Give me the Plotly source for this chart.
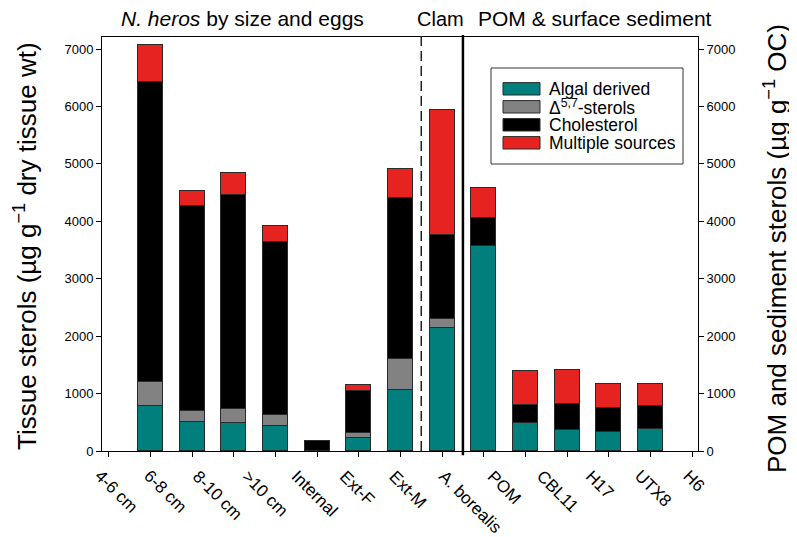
import plotly.graph_objects as go

# ---------------- data ----------------
categories = ["4-6 cm", "6-8 cm", "8-10 cm", ">10 cm", "Internal", "Ext-F", "Ext-M",
              "A. borealis", "POM", "CBL11", "H17", "UTX8", "H6"]
algal = [780, 505, 495, 435, 0, 230, 1055, 2140, 3565, 495, 360, 330, 375]
delta57 = [420, 190, 230, 200, 0, 90, 555, 165, 0, 0, 0, 0, 0]
cholesterol = [5230, 3570, 3740, 3000, 170, 720, 2800, 1465, 495, 300, 455, 420, 410]
multiple = [640, 270, 375, 280, 0, 105, 500, 2165, 520, 595, 590, 410, 380]
y_ticks = [0, 1000, 2000, 3000, 4000, 5000, 6000, 7000]

series_names = ["Algal derived", "Δ<sup>5,7</sup>-sterols", "Cholesterol", "Multiple sources"]
series_vals = [algal, delta57, cholesterol, multiple]
series_colors = ["#007f7d", "#828282", "#000000", "#e62320"]

FONT = "Arial, Liberation Sans, sans-serif"

# page body has an 8px margin: size the figure so the plot lands where it should
OFF = 8
PL, PR, PT, PB = 102, 698, 37, 451          # plot area in window pixels
W, H = 797 - OFF, 537 - OFF
ML, MT = PL - OFF, PT - OFF
MR, MB = W - (PR - OFF), H - (PB - OFF)
PW, PH = PR - PL, PB - PT

# bar slots: one empty slot at each end of the axis
positions = [i + 1 for i in range(len(categories))]
n_slots = len(categories) + 2
x_range = [-0.16, n_slots - 1 + 0.14]


def data_to_paper(xv):
    return (xv - x_range[0]) / (x_range[1] - x_range[0])


def px_x(p):
    return (p - PL) / PW


def px_y(p):
    return (PB - p) / PH


fig = go.Figure()
for name, vals, col in zip(series_names, series_vals, series_colors):
    fig.add_trace(go.Bar(
        x=positions, y=vals, name=name, width=0.6, showlegend=False,
        marker=dict(color=col, line=dict(color="#2a2a2a", width=1)),
    ))

# invisible trace to attach the right-hand axis
fig.add_trace(go.Scatter(x=positions, y=[None] * len(positions), yaxis="y2",
                         showlegend=False, hoverinfo="skip", mode="lines"))

# category labels (spread evenly, rotated)
lab_start = -0.49
lab_step = 1.1775
annotations = []
for i, lab in enumerate(categories):
    annotations.append(dict(
        text=lab, x=data_to_paper(lab_start + i * lab_step), xref="paper", y=0, yref="paper",
        xanchor="left", yanchor="top", yshift=-13, textangle=45, showarrow=False,
        font=dict(family=FONT, size=17, color="#000")))

# group headers
i_clam = categories.index("A. borealis")
hdr_font = dict(family=FONT, size=21, color="#000")
annotations += [
    dict(text="<i>N. heros</i> by size and eggs", x=3.2, xref="x", y=1, yref="paper",
         yanchor="bottom", yshift=5, showarrow=False, font=hdr_font),
    dict(text="Clam", x=positions[i_clam] - 0.05, xref="x", y=1, yref="paper",
         yanchor="bottom", yshift=5, showarrow=False, font=dict(family=FONT, size=20, color="#000")),
    dict(text="POM &amp; surface sediment", x=11.66, xref="x", y=1, yref="paper",
         yanchor="bottom", yshift=5, showarrow=False, font=hdr_font),
]

# axis titles
annotations += [
    dict(text="Tissue sterols (µg g<sup>−1</sup> dry tissue wt)", x=px_x(25), y=px_y(246),
         xref="paper", yref="paper", xanchor="center", yanchor="middle", textangle=-90,
         showarrow=False, font=dict(family=FONT, size=26, color="#000")),
    dict(text="POM and sediment sterols (µg g<sup>−1</sup> OC)", x=px_x(775), y=px_y(249),
         xref="paper", yref="paper", xanchor="center", yanchor="middle", textangle=-90,
         showarrow=False, font=dict(family=FONT, size=26, color="#000")),
]

shapes = [
    dict(type="line", xref="x", yref="paper", x0=positions[i_clam] - 0.5, x1=positions[i_clam] - 0.5,
         y0=0, y1=1.005, line=dict(color="#222", width=1.5, dash="10px,5px")),
    dict(type="line", xref="x", yref="paper", x0=positions[i_clam] + 0.5, x1=positions[i_clam] + 0.5,
         y0=-0.01, y1=1.005, line=dict(color="#000", width=2.5)),
]

# legend box (drawn from the series lists)
shapes.append(dict(type="rect", xref="paper", yref="paper",
                   x0=px_x(491), x1=px_x(683), y0=px_y(164), y1=px_y(68),
                   line=dict(color="#333", width=1), fillcolor="white", layer="above"))
for i, (name, col) in enumerate(zip(series_names, series_colors)):
    cy = 88.8 + 18 * i
    shapes.append(dict(type="rect", xref="paper", yref="paper",
                       x0=px_x(503), x1=px_x(540), y0=px_y(cy + 6.2), y1=px_y(cy - 6.2),
                       line=dict(color="#2a2a2a", width=1), fillcolor=col, layer="above"))
    annotations.append(dict(text=name, x=px_x(547), y=px_y(cy), xref="paper", yref="paper",
                            xanchor="left", yanchor="middle", showarrow=False,
                            font=dict(family=FONT, size=17.5, color="#000")))

axis_common = dict(showgrid=False, zeroline=False, automargin=False,
                   showline=True, linecolor="#000", linewidth=1)

fig.update_layout(
    template="none",
    width=W, height=H,
    margin=dict(l=ML, r=MR, t=MT, b=MB),
    paper_bgcolor="white", plot_bgcolor="white",
    barmode="stack", bargap=0,
    font=dict(family=FONT, size=13, color="#000"),
    showlegend=False,
    xaxis=dict(range=x_range, tickvals=list(range(n_slots)),
               showticklabels=False, ticks="outside", ticklen=5, tickcolor="#000",
               mirror=True, **axis_common),
    yaxis=dict(range=[0, 7210], tickvals=y_ticks, ticks="outside", ticklen=5,
               tickcolor="#000", tickfont=dict(size=13, color="#000"), **axis_common),
    yaxis2=dict(range=[0, 7210], tickvals=y_ticks, overlaying="y", side="right",
                ticks="outside", ticklen=5, tickcolor="#000",
                tickfont=dict(size=13, color="#000"), **axis_common),
    annotations=annotations,
    shapes=shapes,
)

fig.write_html("out.html")
